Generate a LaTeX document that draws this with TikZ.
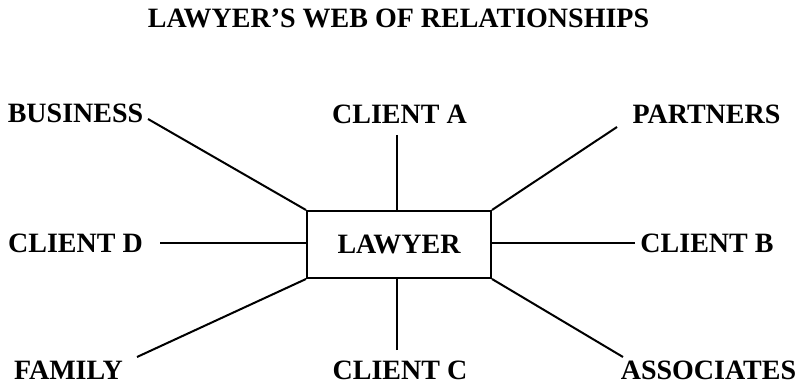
\documentclass[tikz,border=0pt]{standalone}
\usepackage{fontspec}
\setmainfont{Liberation Serif}
\begin{document}
\begin{tikzpicture}[x=1pt,y=-1pt,
  lbl/.style={inner sep=0pt, anchor=base, font=\fontsize{28}{34}\selectfont\bfseries},
  conn/.style={line width=2pt},
  boxnode/.style={draw, line width=2pt, inner sep=0pt, minimum width=184pt, minimum height=67pt, font=\fontsize{28}{34}\selectfont\bfseries}]
\useasboundingbox (0,0) rectangle (798,382);
\node[lbl] (title) at (398.5,28) {\fontsize{28}{34}\selectfont LAWYER’S WEB OF RELATIONSHIPS};
\node[boxnode] (lawyer) at (399,244.5) {LAWYER};
\node[lbl] (business) at (75.5,123) {BUSINESS};
\node[lbl] (clienta) at (399.5,124) {CLIENT A};
\node[lbl] (partners) at (706.5,124) {PARTNERS};
\node[lbl] (clientd) at (75.5,252) {CLIENT D};
\node[lbl] (clientb) at (707,252) {CLIENT B};
\node[lbl] (family) at (68.5,379) {FAMILY};
\node[lbl] (clientc) at (400,379) {CLIENT C};
\node[lbl] (associates) at (708.5,379) {ASSOCIATES};
\coordinate (eb) at (148,119);
\coordinate (ea) at (397,135);
\coordinate (ep) at (617,127);
\coordinate (ed) at (160,243);
\coordinate (ebb) at (635,243);
\coordinate (ef) at (137,357);
\coordinate (ec) at (397,350);
\coordinate (eas) at (623,357);
\draw[conn] (eb) -- (lawyer.north west);
\draw[conn] (ea) -- (ea |- lawyer.north);
\draw[conn] (ep) -- (lawyer.north east);
\draw[conn] (ed) -- (ed -| lawyer.west);
\draw[conn] (ebb) -- (ebb -| lawyer.east);
\draw[conn] (ef) -- (lawyer.south west);
\draw[conn] (ec) -- (ec |- lawyer.south);
\draw[conn] (eas) -- (lawyer.south east);
\end{tikzpicture}
\end{document}
